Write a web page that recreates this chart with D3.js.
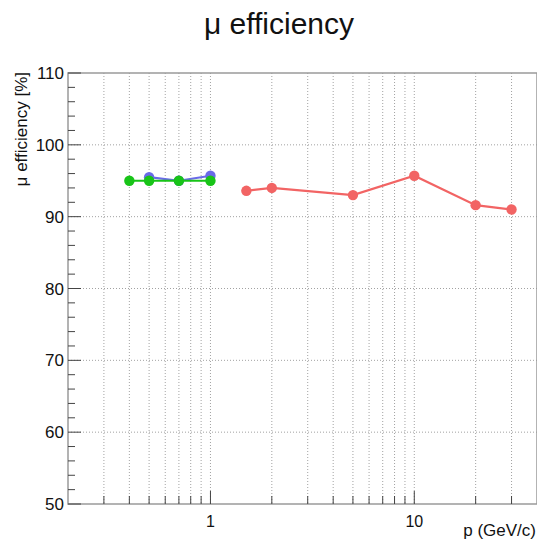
<!DOCTYPE html>
<html>
<head>
<meta charset="utf-8">
<script src="https://cdn.jsdelivr.net/npm/d3@7"></script>
<style>
  html, body { margin: 0; padding: 0; background: #fff; }
  svg { display: block; font-family: "Liberation Sans", Arial, Helvetica, sans-serif; }
</style>
</head>
<body>
<svg id="chart" width="537" height="542"></svg>
<script>
// Momentum points (GeV/c) and muon efficiency (%) for each sample
const blueP   = [0.5, 0.7, 1.0];
const blueEff = [95.5, 95.0, 95.7];
const greenP   = [0.4, 0.5, 0.7, 1.0];
const greenEff = [95.0, 95.0, 95.0, 95.0];
const redP   = [1.5, 2, 5, 10, 20, 30];
const redEff = [93.6, 94.0, 93.0, 95.7, 91.6, 91.0];

const yMajorTicks = [50, 60, 70, 80, 90, 100, 110];
const xLabelTicks = [1, 10];
const xAllTicks = [0.3, 0.4, 0.5, 0.6, 0.7, 0.8, 0.9, 1, 2, 3, 4, 5, 6, 7, 8, 9, 10, 20, 30];

const svg = d3.select("#chart");
const frameL = 68, frameR = 537, frameT = 73, frameB = 504;

const x = d3.scaleLog().domain([0.2, 40]).range([frameL, frameR]);
const y = d3.scaleLinear().domain([50, 110]).range([frameB, frameT]);

// Grid: dotted lines at every x tick and major y ticks
const grid = svg.append("g").attr("stroke", "#8a8a8a").attr("stroke-width", 0.8)
  .attr("stroke-dasharray", "1,2");
grid.selectAll("line.gx").data(xAllTicks).join("line")
  .attr("x1", d => x(d)).attr("x2", d => x(d)).attr("y1", frameT).attr("y2", frameB);
grid.selectAll("line.gy").data(yMajorTicks.slice(1, -1)).join("line")
  .attr("x1", frameL).attr("x2", frameR).attr("y1", d => y(d)).attr("y2", d => y(d));

// Frame
svg.append("rect").attr("x", frameL).attr("y", frameT)
  .attr("width", frameR - frameL).attr("height", frameB - frameT)
  .attr("fill", "none").attr("stroke", "#9a9a9a").attr("stroke-width", 1.5);

// Y axis ticks (inside the frame)
const yMinor = d3.range(50, 110.1, 2);
svg.append("g").selectAll("line").data(yMinor).join("line")
  .attr("x1", frameL).attr("x2", d => frameL + (d % 10 === 0 ? 13 : 7))
  .attr("y1", d => y(d)).attr("y2", d => y(d))
  .attr("stroke", "#444").attr("stroke-width", 1);
svg.append("g").selectAll("text").data(yMajorTicks).join("text")
  .attr("x", frameL - 4).attr("y", d => y(d)).attr("dy", "0.36em")
  .attr("text-anchor", "end").attr("font-size", 17).attr("fill", "#111")
  .text(d => d);

// X axis ticks (inside the frame, pointing up)
svg.append("g").selectAll("line").data(xAllTicks).join("line")
  .attr("x1", d => x(d)).attr("x2", d => x(d))
  .attr("y1", frameB).attr("y2", d => frameB - (xLabelTicks.includes(d) ? 13 : 8))
  .attr("stroke", "#444").attr("stroke-width", 1);
svg.append("g").selectAll("text").data(xLabelTicks).join("text")
  .attr("x", d => x(d)).attr("y", frameB + 23)
  .attr("text-anchor", "middle").attr("font-size", 16).attr("fill", "#111")
  .text(d => d);

// Axis titles
svg.append("text").attr("x", 536).attr("y", 536).attr("text-anchor", "end")
  .attr("font-size", 17).attr("fill", "#111").text("p (GeV/c)");
svg.append("text").attr("transform", "translate(27,72) rotate(-90)")
  .attr("text-anchor", "end").attr("font-size", 17).attr("fill", "#111")
  .text("μ efficiency [%]");

// Title
svg.append("text").attr("x", 279).attr("y", 34).attr("text-anchor", "middle")
  .attr("font-size", 30).attr("fill", "#111").text("μ efficiency");

// Series
function drawSeries(ps, vs, color) {
  const pts = ps.map((p, i) => [p, vs[i]]);
  const line = d3.line().x(d => x(d[0])).y(d => y(d[1]));
  const g = svg.append("g");
  g.append("path").datum(pts).attr("d", line)
    .attr("fill", "none").attr("stroke", color).attr("stroke-width", 2.2);
  g.selectAll("circle").data(pts).join("circle")
    .attr("cx", d => x(d[0])).attr("cy", d => y(d[1])).attr("r", 5.2)
    .attr("fill", color);
}
drawSeries(blueP, blueEff, "#6a6ae8");
drawSeries(greenP, greenEff, "#18c418");
drawSeries(redP, redEff, "#f26464");
</script>
</body>
</html>
